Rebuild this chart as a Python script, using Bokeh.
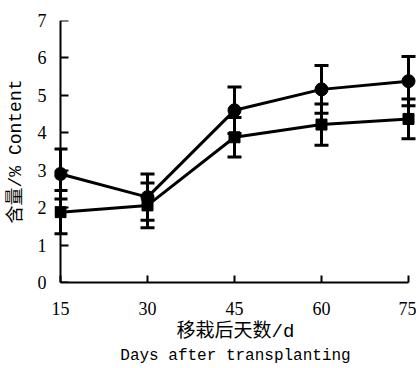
from bokeh.plotting import figure
from bokeh.models import (ColumnDataSource, Whisker, TeeHead, FixedTicker, Range1d,
                          Title, LinearAxis)
from bokeh.embed import file_html
from bokeh.resources import INLINE

# ---- data ----
days = [15, 30, 45, 60, 75]
circle_mean = [2.90, 2.28, 4.60, 5.16, 5.38]
circle_err = [0.67, 0.62, 0.62, 0.64, 0.66]
square_mean = [1.88, 2.06, 3.88, 4.22, 4.37]
square_err = [0.58, 0.60, 0.53, 0.55, 0.53]
x_ticks = [15, 30, 45, 60, 75]
y_ticks = [0, 1, 2, 3, 4, 5, 6, 7]
y_label = "含量/% Content"
x_label_cn = "移栽后天数/d"
x_label_en = "Days after transplanting"

src = ColumnDataSource(dict(
    days=days,
    cm=circle_mean,
    cu=[m + e for m, e in zip(circle_mean, circle_err)],
    cl=[m - e for m, e in zip(circle_mean, circle_err)],
    sm=square_mean,
    su=[m + e for m, e in zip(square_mean, square_err)],
    sl=[m - e for m, e in zip(square_mean, square_err)],
))

p = figure(width=416, height=368,
           x_range=Range1d(13.9655, 76.379), y_range=Range1d(0, 7),
           output_backend="svg", toolbar_location=None,
           min_border_left=54, min_border_right=0,
           min_border_top=20, min_border_bottom=86)
p.outline_line_color = None
p.grid.visible = False
p.background_fill_color = "white"
p.border_fill_color = "white"

# error bars
for up, lo in (("cu", "cl"), ("su", "sl")):
    w = Whisker(source=src, base="days", upper=up, lower=lo,
                line_color="black", line_width=3,
                upper_head=TeeHead(size=14, line_width=3, line_color="black"),
                lower_head=TeeHead(size=14, line_width=3, line_color="black"),
                level="glyph")
    p.add_layout(w)

p.line("days", "cm", source=src, line_width=3, line_color="black")
p.line("days", "sm", source=src, line_width=3, line_color="black")
p.scatter("days", "cm", source=src, marker="circle", size=13,
          fill_color="black", line_color="black")
p.scatter("days", "sm", source=src, marker="square", size=11,
          fill_color="black", line_color="black")

serif = "Liberation Serif"
mixed = "Liberation Mono, Noto Sans CJK SC"

xa = p.xaxis[0]
xa.ticker = FixedTicker(ticks=x_ticks)
xa.bounds = (15, 75)
xa.axis_line_width = 2
xa.major_tick_line_width = 2
xa.major_tick_in = 7
xa.major_tick_out = 0
xa.minor_tick_line_color = None
xa.major_label_text_font = serif
xa.major_label_text_font_size = "18px"
xa.major_label_text_color = "black"
xa.major_label_standoff = 19

# left axis: only tick labels and axis title
ya = p.yaxis[0]
ya.ticker = FixedTicker(ticks=y_ticks)
ya.axis_line_color = None
ya.major_tick_line_color = None
ya.minor_tick_line_color = None
ya.major_tick_in = 0
ya.major_tick_out = 0
ya.major_label_text_font = serif
ya.major_label_text_font_size = "18px"
ya.major_label_text_color = "black"
ya.major_label_standoff = 8
ya.axis_label = y_label
ya.axis_label_text_font = mixed
ya.axis_label_text_font_size = "18px"
ya.axis_label_text_font_style = "normal"
ya.axis_label_text_color = "black"
ya.axis_label_standoff = 9

# axis line and ticks drawn at day 15 (no labels of its own)
yl = LinearAxis(fixed_location=15, ticker=FixedTicker(ticks=y_ticks),
                bounds=(0, 7), axis_line_width=2, major_tick_line_width=2,
                major_tick_in=8, major_tick_out=0,
                minor_tick_line_color=None,
                major_label_text_color=None, major_label_standoff=0)
p.add_layout(yl, "left")

t1 = Title(text=x_label_cn, align="center", text_font=mixed,
           text_font_size="19px", text_font_style="normal",
           text_color="black", standoff=3)
t2 = Title(text=x_label_en, align="center", text_font="Liberation Mono",
           text_font_size="16px", text_font_style="normal",
           text_color="black", standoff=0)
p.add_layout(t1, "below")
p.add_layout(t2, "below")

open("out.html", "w").write(file_html(p, INLINE))
